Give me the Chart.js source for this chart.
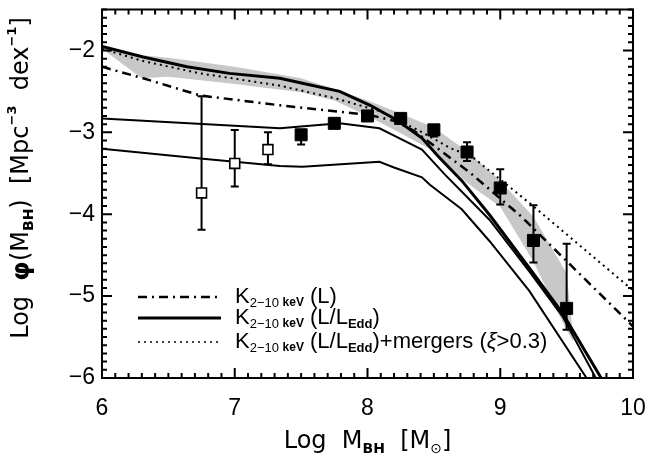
<!DOCTYPE html>
<html>
<head>
<meta charset="utf-8">
<script src="https://cdn.jsdelivr.net/npm/chart.js@4"></script>
<style>
  html, body { margin: 0; padding: 0; background: #fff; }
  #wrap { width: 650px; height: 463px; }
</style>
</head>
<body>
<div id="wrap"><canvas id="bhmf"></canvas></div>
<script>
// ---- valores ----
const xTicks = [6, 7, 8, 9, 10];
const yTicks = [-6, -5, -4, -3, -2];

// banda gris (incertidumbre)
const bandX  = [6.0, 6.3, 6.5, 7.0, 7.5, 7.75, 8.0, 8.25, 8.5, 8.75, 9.0, 9.25, 9.5, 9.55];
const bandHi = [-1.93, -2.06, -2.09, -2.20, -2.34, -2.47, -2.61, -2.77, -2.94, -3.23, -3.59, -4.03, -4.72, -5.50];
const bandLo = [-1.98, -2.34, -2.32, -2.41, -2.51, -2.61, -2.80, -3.01, -3.23, -3.62, -3.91, -4.58, -5.42, -5.55];

// K 2-10 keV (L)  -- punto y raya
const xKL = [6.0, 6.31, 6.74, 7.34, 8.02, 8.2, 8.35, 8.77, 9.16, 10.0];
const yKL = [-2.20, -2.34, -2.55, -2.67, -2.79, -2.86, -2.98, -3.49, -4.03, -5.37];

// K 2-10 keV (L/LEdd)  -- linea gruesa
const xKEdd = [6.0, 6.31, 6.64, 6.96, 7.34, 7.51, 7.79, 8.02, 8.22, 8.41, 8.53, 8.71, 8.92, 9.22, 9.47, 9.76, 9.8];
const yKEdd = [-1.95, -2.08, -2.20, -2.28, -2.34, -2.40, -2.50, -2.67, -2.85, -3.07, -3.29, -3.59, -4.01, -4.66, -5.21, -6.0, -6.1];

// K 2-10 keV (L/LEdd)+mergers  -- punteada
const xKMrg = [6.0, 6.31, 6.74, 7.34, 7.77, 8.09, 8.39, 8.62, 8.79, 9.24, 10.0];
const yKMrg = [-1.98, -2.13, -2.28, -2.43, -2.59, -2.74, -2.98, -3.19, -3.30, -3.89, -4.93];

// otras dos curvas solidas finas
const xThinA = [6.0, 7.34, 7.79, 8.09, 8.20, 8.41, 8.58, 8.75, 8.92, 9.22, 9.47, 9.72, 9.76];
const yThinA = [-2.83, -2.95, -2.89, -2.95, -3.04, -3.21, -3.51, -3.79, -4.07, -4.70, -5.25, -6.0, -6.1];
const xThinB = [6.0, 6.74, 7.34, 7.51, 8.09, 8.20, 8.41, 8.47, 8.71, 8.92, 9.22, 9.65, 9.69];
const yThinB = [-3.20, -3.32, -3.41, -3.42, -3.36, -3.43, -3.55, -3.64, -3.94, -4.33, -4.94, -6.0, -6.1];

// datos observados: cuadros vacios
const openX  = [6.75, 7.0, 7.25];
const openY  = [-3.74, -3.38, -3.21];
const openLo = [-4.19, -3.66, -3.39];
const openHi = [-2.56, -2.97, -3.00];

// datos observados: cuadros llenos
const fillX  = [7.5, 7.75, 8.0, 8.25, 8.5, 8.75, 9.0, 9.25, 9.5];
const fillY  = [-3.03, -2.89, -2.80, -2.83, -2.97, -3.24, -3.68, -4.32, -5.15];
const fillLo = [-3.15, -2.95, -2.86, -2.89, -3.05, -3.35, -3.88, -4.59, -5.41];
const fillHi = [-2.97, -2.84, -2.75, -2.78, -2.91, -3.12, -3.45, -3.89, -4.36];

const FONT = '"Liberation Sans", "DejaVu Sans", sans-serif';
const TFONT = '"DejaVu Sans", sans-serif';

function pts(xs, ys) {
    return xs.map((x, i) => ({ x: x, y: ys[i] }));
}

// texto con sub/superindices: [texto, tamano, peso, desplazamiento]
function rich(ctx, parts, x, y, align, fam) {
    fam = fam || FONT;
    let w = 0;
    parts.forEach(p => {
        ctx.font = `${p[2] || 'normal'} ${p[1]}px ${fam}`;
        w += ctx.measureText(p[0]).width;
    });
    let cx = align === 'center' ? x - w / 2 : x;
    ctx.textAlign = 'left';
    ctx.textBaseline = 'middle';
    parts.forEach(p => {
        ctx.font = `${p[2] || 'normal'} ${p[1]}px ${fam}`;
        ctx.fillText(p[0], cx, y + (p[3] || 0));
        cx += ctx.measureText(p[0]).width;
    });
}

function drawErrors(chart, xs, lo, hi) {
    const ctx = chart.ctx, sx = chart.scales.x, sy = chart.scales.y;
    ctx.save();
    ctx.strokeStyle = '#000';
    ctx.lineWidth = 2;
    xs.forEach((x, i) => {
        const px = sx.getPixelForValue(x);
        const p1 = sy.getPixelForValue(lo[i]);
        const p2 = sy.getPixelForValue(hi[i]);
        ctx.beginPath();
        ctx.moveTo(px, p1); ctx.lineTo(px, p2);
        ctx.moveTo(px - 4, p1); ctx.lineTo(px + 4, p1);
        ctx.moveTo(px - 4, p2); ctx.lineTo(px + 4, p2);
        ctx.stroke();
    });
    ctx.restore();
}

function noPad(s) {
    s.paddingLeft = 0; s.paddingRight = 0; s.paddingTop = 0; s.paddingBottom = 0;
}

const decoPlugin = {
    id: 'deco',
    beforeDatasetDraw(chart, args) {
        if (args.index === 1) drawErrors(chart, openX, openLo, openHi);
        if (args.index === 0) drawErrors(chart, fillX, fillLo, fillHi);
    },
    afterDraw(chart) {
        const ctx = chart.ctx, a = chart.chartArea;
        const sx = chart.scales.x, sy = chart.scales.y;
        ctx.save();
        ctx.strokeStyle = '#000';
        ctx.fillStyle = '#000';

        // marco
        ctx.lineWidth = 2;
        ctx.strokeRect(a.left, a.top, a.right - a.left, a.bottom - a.top);

        // marcas hacia adentro
        ctx.lineWidth = 2;
        ctx.beginPath();
        for (let k = 60; k <= 100; k++) {
            const px = sx.getPixelForValue(k / 10);
            const len = k % 10 === 0 ? 10 : 5;
            ctx.moveTo(px, a.bottom); ctx.lineTo(px, a.bottom - len);
            ctx.moveTo(px, a.top); ctx.lineTo(px, a.top + len);
        }
        for (let k = -60; k <= -15; k++) {
            const py = sy.getPixelForValue(k / 10);
            const len = k % 10 === 0 ? 10 : 5;
            ctx.moveTo(a.left, py); ctx.lineTo(a.left + len, py);
            ctx.moveTo(a.right, py); ctx.lineTo(a.right - len, py);
        }
        ctx.stroke();

        // titulo eje x
        rich(ctx, [['Log  M', 24], ['BH', 14, 'bold', 7], ['  [M', 24], ['\u2299', 14, 'normal', 7], [']', 24]],
            (a.left + a.right) / 2, 442, 'center', TFONT);

        // titulo eje y
        ctx.save();
        ctx.translate(22, 178);
        ctx.rotate(-Math.PI / 2);
        rich(ctx, [['Log  ', 24], ['\u03c6', 25, 'bold'], ['(M', 24], ['BH', 14, 'bold', 7], [')  [Mpc', 24],
            ['\u22123', 13, 'bold', -9], ['  dex', 24], ['\u22121', 13, 'bold', -9], [']', 24]], 0, 0, 'center', TFONT);
        ctx.restore();

        // leyenda
        const rows = [
            { y: 297, dash: [9, 5, 2, 5], w: 2.5, extra: [[' (L)', 22]] },
            { y: 318, dash: [], w: 3, extra: [[' (L/L', 22], ['Edd', 13, 'bold', 6], [')', 22]] },
            { y: 342, dash: [2, 4], w: 1.5, extra: [[' (L/L', 22], ['Edd', 13, 'bold', 6], [')+mergers (', 22], ['\u03be', 22, 'italic'], ['>0.3)', 22]] }
        ];
        rows.forEach(r => {
            ctx.lineWidth = r.w;
            ctx.setLineDash(r.dash);
            ctx.beginPath();
            ctx.moveTo(138, r.y); ctx.lineTo(221, r.y);
            ctx.stroke();
            ctx.setLineDash([]);
            rich(ctx, [['K', 22], ['2\u221210 ', 13, 'normal', 6], ['keV', 12, 'bold', 6]].concat(r.extra), 235, r.y);
        });
        ctx.restore();
    }
};

const ctx = document.getElementById('bhmf').getContext('2d');

new Chart(ctx, {
    type: 'scatter',
    data: {
        datasets: [
            {   // 0 cuadros llenos
                data: pts(fillX, fillY),
                pointStyle: 'rect', pointRadius: 8.5,
                backgroundColor: '#000', borderColor: '#000', borderWidth: 1
            },
            {   // 1 cuadros vacios
                data: pts(openX, openY),
                pointStyle: 'rect', pointRadius: 7,
                backgroundColor: '#fff', borderColor: '#000', borderWidth: 1.6
            },
            {   // 2 mergers
                data: pts(xKMrg, yKMrg), showLine: true, pointRadius: 0,
                borderColor: '#000', borderWidth: 2, borderDash: [2, 4], fill: false
            },
            {   // 3 K(L)
                data: pts(xKL, yKL), showLine: true, pointRadius: 0,
                borderColor: '#000', borderWidth: 2.5, borderDash: [9, 5, 2, 5], fill: false
            },
            {   // 4 K(L/LEdd)
                data: pts(xKEdd, yKEdd), showLine: true, pointRadius: 0,
                borderColor: '#000', borderWidth: 3, fill: false
            },
            {   // 5
                data: pts(xThinA, yThinA), showLine: true, pointRadius: 0,
                borderColor: '#000', borderWidth: 2, fill: false
            },
            {   // 6
                data: pts(xThinB, yThinB), showLine: true, pointRadius: 0,
                borderColor: '#000', borderWidth: 2, fill: false
            },
            {   // 7 borde superior de la banda
                data: pts(bandX, bandHi), showLine: true, pointRadius: 0,
                borderWidth: 0, borderColor: 'rgba(0,0,0,0)',
                backgroundColor: 'rgb(200,200,200)', fill: '+1'
            },
            {   // 8 borde inferior de la banda
                data: pts(bandX, bandLo), showLine: true, pointRadius: 0,
                borderWidth: 0, borderColor: 'rgba(0,0,0,0)', fill: false
            }
        ]
    },
    options: {
        responsive: true,
        maintainAspectRatio: false,
        animation: false,
        events: [],
        layout: { padding: { left: 0, top: 5, right: 17, bottom: 0 } },
        plugins: { legend: { display: false }, tooltip: { enabled: false } },
        scales: {
            x: {
                type: 'linear', min: 6, max: 10,
                afterBuildTicks: s => { s.ticks = xTicks.map(v => ({ value: v })); },
                afterFit: s => { s.height = 85; noPad(s); },
                grid: { display: false, drawTicks: false },
                border: { display: false },
                ticks: { color: '#000', padding: 17, font: { family: FONT, size: 23 } }
            },
            y: {
                type: 'linear', min: -6, max: -1.5,
                afterBuildTicks: s => { s.ticks = yTicks.map(v => ({ value: v })); },
                afterFit: s => { s.width = 102; noPad(s); },
                grid: { display: false, drawTicks: false },
                border: { display: false },
                ticks: {
                    color: '#000', padding: 7, font: { family: FONT, size: 23 },
                    callback: v => '\u2212' + Math.abs(v)
                }
            }
        }
    },
    plugins: [decoPlugin]
});
</script>
</body>
</html>
